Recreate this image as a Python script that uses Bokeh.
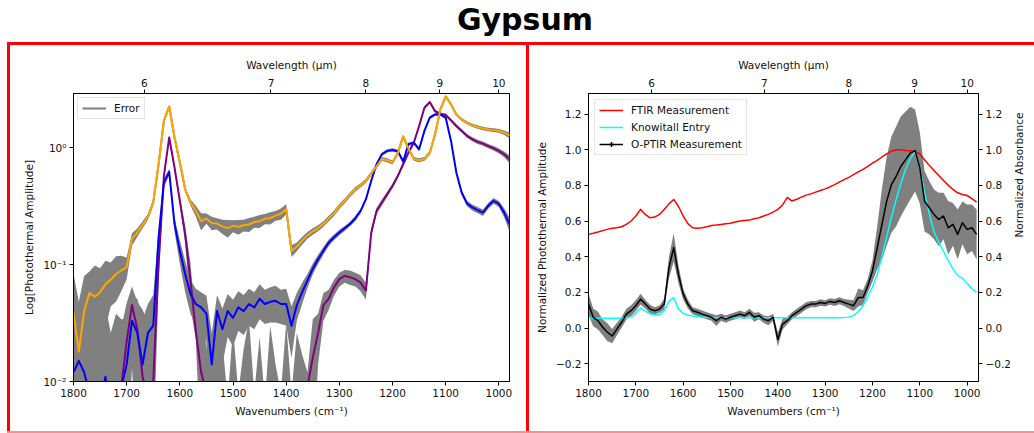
import math
from bokeh.plotting import figure
from bokeh.models import (Range1d, LinearAxis, FixedTicker, CustomJSTickFormatter,
                          Legend, LegendItem, Div, Spacer)
from bokeh.layouts import column, row
from bokeh.embed import file_html
from bokeh.resources import INLINE

# ---------------- data ----------------
WN = list(range(1800, 979, -10))  # wavenumber grid, cm^-1

ORANGE = [0.039, 0.018, 0.040, 0.057, 0.053, 0.058, 0.068, 0.074, 0.083, 0.089,
          0.095, 0.165, 0.188, 0.219, 0.256, 0.340, 0.720, 1.690, 2.250, 1.220,
          0.745, 0.440, 0.340, 0.288, 0.235, 0.248, 0.226, 0.224, 0.212, 0.205,
          0.214, 0.210, 0.217, 0.220, 0.231, 0.235, 0.246, 0.250, 0.262, 0.272,
          0.298, 0.131, 0.142, 0.160, 0.178, 0.192, 0.205, 0.222, 0.247, 0.275,
          0.315, 0.350, 0.395, 0.440, 0.475, 0.520, 0.600, 0.690, 0.800, 0.780,
          0.745, 0.900, 1.250, 0.980, 0.800, 0.780, 0.800, 0.900, 1.300, 2.120,
          2.740, 2.340, 1.920, 1.740, 1.630, 1.550, 1.500, 1.460, 1.430, 1.410,
          1.390, 1.340, 1.270]
ORANGE_ERR = [0.045, 0.030, 0.040, 0.030, 0.045, 0.035, 0.040, 0.030, 0.035, 0.030,
              0.020, 0.020, 0.015, 0.015, 0.015, 0.020, 0.030, 0.050, 0.060, 0.050,
              0.030, 0.020, 0.020, 0.030, 0.040, 0.025, 0.030, 0.025, 0.030, 0.035,
              0.025, 0.030, 0.025, 0.030, 0.025, 0.030, 0.025, 0.030, 0.025, 0.030,
              0.030, 0.015, 0.012, 0.012, 0.012, 0.012, 0.012, 0.012, 0.014, 0.015,
              0.016, 0.017, 0.018, 0.020, 0.020, 0.022, 0.025, 0.025, 0.030, 0.030,
              0.030, 0.030, 0.035, 0.035, 0.030, 0.030, 0.030, 0.035, 0.040, 0.050,
              0.060, 0.050, 0.050, 0.050, 0.050, 0.050, 0.050, 0.050, 0.050, 0.050,
              0.050, 0.060, 0.070]

PURPLE = [0.004, 0.004, 0.004, 0.004, 0.004, 0.004, 0.004, 0.004, 0.005, 0.009,
          0.022, 0.045, 0.028, 0.011, 0.007, 0.010, 0.100, 0.570, 1.220, 0.675,
          0.350, 0.182, 0.073, 0.027, 0.012, 0.008, 0.005, 0.004, 0.004, 0.004,
          0.004, 0.004, 0.004, 0.004, 0.004, 0.004, 0.004, 0.004, 0.004, 0.004,
          0.004, 0.004, 0.004, 0.005, 0.009, 0.016, 0.026, 0.045, 0.051, 0.064,
          0.075, 0.080, 0.078, 0.075, 0.070, 0.060, 0.188, 0.288, 0.339, 0.400,
          0.470, 0.573, 0.720, 0.906, 1.100, 1.530, 2.190, 2.450, 2.050, 1.940,
          1.900, 1.710, 1.530, 1.390, 1.260, 1.180, 1.120, 1.080, 1.030, 0.987,
          0.937, 0.877, 0.795]
PURPLE_ERR = [0.030, 0.020, 0.035, 0.025, 0.030, 0.020, 0.030, 0.020, 0.025, 0.020,
              0.025, 0.020, 0.020, 0.030, 0.025, 0.020, 0.030, 0.040, 0.050, 0.040,
              0.030, 0.030, 0.030, 0.004, 0.035, 0.012, 0.004, 0.028, 0.018, 0.003,
              0.025, 0.004, 0.015, 0.030, 0.004, 0.020, 0.003, 0.026, 0.010, 0.004,
              0.028, 0.004, 0.022, 0.012, 0.003, 0.018, 0.012, 0.012, 0.010, 0.010,
              0.010, 0.010, 0.011, 0.010, 0.011, 0.010, 0.015, 0.018, 0.020, 0.020,
              0.022, 0.025, 0.030, 0.035, 0.040, 0.050, 0.060, 0.060, 0.060, 0.055,
              0.055, 0.050, 0.050, 0.045, 0.045, 0.045, 0.045, 0.045, 0.045, 0.045,
              0.045, 0.050, 0.060]

BLUE = [0.012, 0.015, 0.012, 0.008, 0.006, 0.006, 0.011, 0.006, 0.008, 0.009,
        0.014, 0.033, 0.026, 0.014, 0.026, 0.030, 0.170, 0.500, 0.620, 0.222,
        0.131, 0.083, 0.056, 0.046, 0.043, 0.038, 0.014, 0.040, 0.028, 0.040,
        0.035, 0.043, 0.040, 0.046, 0.043, 0.051, 0.046, 0.048, 0.049, 0.046,
        0.046, 0.030, 0.045, 0.058, 0.073, 0.092, 0.111, 0.131, 0.154, 0.171,
        0.188, 0.204, 0.222, 0.248, 0.288, 0.362, 0.520, 0.720, 0.877, 0.937,
        0.955, 0.930, 0.760, 1.070, 1.100, 0.967, 1.390, 1.800, 1.920, 1.920,
        1.800, 1.140, 0.612, 0.413, 0.333, 0.308, 0.292, 0.278, 0.318, 0.351,
        0.330, 0.278, 0.222]
BLUE_ERR = [0.030, 0.020, 0.030, 0.025, 0.030, 0.020, 0.035, 0.020, 0.030, 0.025,
            0.020, 0.020, 0.025, 0.020, 0.020, 0.025, 0.030, 0.040, 0.040, 0.030,
            0.030, 0.025, 0.018, 0.016, 0.015, 0.016, 0.012, 0.015, 0.014, 0.016,
            0.015, 0.016, 0.015, 0.016, 0.015, 0.017, 0.015, 0.016, 0.017, 0.015,
            0.016, 0.014, 0.012, 0.012, 0.010, 0.010, 0.010, 0.010, 0.010, 0.010,
            0.010, 0.010, 0.010, 0.012, 0.012, 0.015, 0.020, 0.025, 0.030, 0.030,
            0.030, 0.030, 0.030, 0.035, 0.035, 0.035, 0.040, 0.050, 0.050, 0.050,
            0.050, 0.040, 0.025, 0.020, 0.018, 0.018, 0.018, 0.018, 0.018, 0.020,
            0.020, 0.025, 0.030]

FTIR = [0.525, 0.531, 0.538, 0.546, 0.553, 0.559, 0.562, 0.568, 0.581, 0.600,
        0.628, 0.665, 0.637, 0.618, 0.622, 0.637, 0.665, 0.696, 0.721, 0.683,
        0.628, 0.585, 0.562, 0.559, 0.562, 0.568, 0.575, 0.577, 0.581, 0.585,
        0.588, 0.594, 0.600, 0.603, 0.605, 0.613, 0.618, 0.628, 0.637, 0.650,
        0.665, 0.690, 0.732, 0.712, 0.722, 0.734, 0.745, 0.752, 0.762, 0.771,
        0.780, 0.791, 0.804, 0.818, 0.832, 0.845, 0.860, 0.875, 0.890, 0.907,
        0.924, 0.940, 0.959, 0.976, 0.991, 1.000, 1.000, 0.996, 0.994, 0.991,
        0.976, 0.944, 0.912, 0.883, 0.855, 0.827, 0.801, 0.777, 0.758, 0.749,
        0.743, 0.726, 0.706]

KNOWITALL = [0.055, 0.055, 0.055, 0.055, 0.055, 0.055, 0.055, 0.056, 0.057, 0.062,
             0.085, 0.112, 0.095, 0.080, 0.074, 0.076, 0.097, 0.150, 0.170, 0.106,
             0.082, 0.073, 0.067, 0.063, 0.061, 0.060, 0.059, 0.058, 0.058, 0.058,
             0.058, 0.058, 0.058, 0.058, 0.058, 0.058, 0.058, 0.058, 0.058, 0.058,
             0.058, 0.058, 0.058, 0.058, 0.058, 0.058, 0.058, 0.058, 0.058, 0.058,
             0.058, 0.058, 0.058, 0.058, 0.059, 0.061, 0.071, 0.091, 0.125, 0.175,
             0.230, 0.300, 0.400, 0.510, 0.620, 0.720, 0.810, 0.890, 0.950, 0.990,
             0.900, 0.760, 0.640, 0.540, 0.480, 0.430, 0.380, 0.330, 0.295, 0.280,
             0.250, 0.220, 0.200]

OPTIR = [0.134, 0.060, 0.041, 0.004, -0.024, -0.045, -0.006, 0.032, 0.078, 0.097,
         0.125, 0.162, 0.134, 0.106, 0.097, 0.106, 0.134, 0.339, 0.451, 0.302,
         0.190, 0.134, 0.097, 0.088, 0.078, 0.069, 0.060, 0.041, 0.060, 0.050,
         0.060, 0.069, 0.078, 0.069, 0.088, 0.060, 0.069, 0.050, 0.041, 0.060,
         -0.065, 0.022, 0.041, 0.069, 0.088, 0.106, 0.125, 0.134, 0.134, 0.143,
         0.138, 0.149, 0.143, 0.153, 0.143, 0.134, 0.125, 0.171, 0.171, 0.236,
         0.320, 0.450, 0.581, 0.711, 0.804, 0.850, 0.907, 0.944, 0.981, 0.995,
         0.898, 0.711, 0.674, 0.637, 0.609, 0.628, 0.562, 0.581, 0.525, 0.590,
         0.553, 0.562, 0.525]
OPTIR_ERR = [0.060, 0.050, 0.050, 0.045, 0.050, 0.040, 0.035, 0.030, 0.030, 0.030,
             0.030, 0.030, 0.025, 0.025, 0.020, 0.020, 0.030, 0.060, 0.080, 0.050,
             0.030, 0.025, 0.020, 0.020, 0.020, 0.020, 0.020, 0.030, 0.020, 0.020,
             0.020, 0.020, 0.020, 0.020, 0.020, 0.025, 0.020, 0.020, 0.025, 0.020,
             0.040, 0.030, 0.020, 0.020, 0.020, 0.020, 0.020, 0.018, 0.018, 0.018,
             0.018, 0.018, 0.020, 0.020, 0.020, 0.025, 0.030, 0.050, 0.040, 0.040,
             0.060, 0.120, 0.200, 0.250, 0.270, 0.280, 0.280, 0.270, 0.260, 0.230,
             0.200, 0.170, 0.150, 0.140, 0.150, 0.130, 0.150, 0.120, 0.140, 0.120,
             0.140, 0.130, 0.140]

WN_TICKS = [1800, 1700, 1600, 1500, 1400, 1300, 1200, 1100, 1000]
WAVELENGTHS_UM = [6, 7, 8, 9, 10]
LOG_TICKS = [0.01, 0.1, 1.0]
NORM_TICKS = [-0.2, 0.0, 0.2, 0.4, 0.6, 0.8, 1.0, 1.2]

FONT = "DejaVu Sans"
FS = "10.5px"
GRAY = "#808080"


def style_axis(ax):
    ax.major_label_text_font = FONT
    ax.major_label_text_font_size = FS
    ax.major_label_text_color = "#111111"
    ax.axis_label_text_font = FONT
    ax.axis_label_text_font_size = FS
    ax.axis_label_text_font_style = "normal"
    ax.axis_label_text_color = "#111111"
    ax.axis_line_color = "black"
    ax.major_tick_line_color = "black"
    ax.major_tick_in = 0
    ax.major_tick_out = 4
    ax.minor_tick_line_color = None
    ax.major_label_standoff = 3
    ax.axis_label_standoff = 5


def wl_axis():
    ax = LinearAxis(axis_label="Wavelength (\u03bcm)",
                    ticker=FixedTicker(ticks=[10000.0 / w for w in WAVELENGTHS_UM]),
                    formatter=CustomJSTickFormatter(code="return String(Math.round(10000/tick));"))
    style_axis(ax)
    return ax


def style_legend(leg):
    leg.label_text_font = FONT
    leg.label_text_font_size = FS
    leg.label_text_color = "#111111"
    leg.glyph_width = 24
    leg.glyph_height = 12
    leg.label_height = 12
    leg.label_standoff = 8
    leg.padding = 4
    leg.spacing = 5
    leg.border_line_color = "#cccccc"
    leg.border_line_width = 1
    leg.background_fill_alpha = 0.8
    leg.location = "top_left"


# ---------------- left panel ----------------
p1 = figure(width=516, height=386, x_range=Range1d(1800, 980), y_range=Range1d(0.01, 2.9),
            y_axis_type="log", output_backend="svg", toolbar_location=None,
            min_border_left=63, min_border_right=17, min_border_top=48, min_border_bottom=50)
p1.grid.visible = False
p1.outline_line_color = "black"
p1.xaxis.ticker = FixedTicker(ticks=WN_TICKS)
p1.xaxis.axis_label = "Wavenumbers (cm\u207b\u00b9)"
p1.yaxis.ticker = FixedTicker(ticks=LOG_TICKS)
p1.yaxis.formatter = CustomJSTickFormatter(code=r"""
const sup = {'-':'\u207b','0':'\u2070','1':'\u00b9','2':'\u00b2','3':'\u00b3','4':'\u2074','5':'\u2075','6':'\u2076','7':'\u2077','8':'\u2078','9':'\u2079'};
const e = Math.round(Math.log10(tick));
return '10' + String(e).split('').map(c => sup[c]).join('');
""")
p1.yaxis.axis_label = "Log[Photothermal Amplitude]"
for ax in p1.xaxis + p1.yaxis:
    style_axis(ax)
p1.add_layout(wl_axis(), "above")

FLOOR = 0.002
for vals, errs in ((ORANGE, ORANGE_ERR), (PURPLE, PURPLE_ERR), (BLUE, BLUE_ERR)):
    lo = [max(v - e, FLOOR) for v, e in zip(vals, errs)]
    hi = [v + e for v, e in zip(vals, errs)]
    p1.varea(x=WN, y1=lo, y2=hi, fill_color=GRAY, fill_alpha=1.0)

err_line = p1.line(WN, ORANGE, line_color=GRAY, line_width=2)
p1.line(WN, PURPLE, line_color="#800080", line_width=2, line_join="round")
p1.line(WN, BLUE, line_color="#0000ff", line_width=2, line_join="round")
p1.line(WN, ORANGE, line_color="#ffa500", line_width=2, line_join="round")

leg1 = Legend(items=[LegendItem(label="Error", renderers=[err_line])])
style_legend(leg1)
leg1.margin = 4
p1.add_layout(leg1)

# ---------------- right panel ----------------
p2 = figure(width=505, height=386, x_range=Range1d(1800, 976), y_range=Range1d(-0.30, 1.315),
            output_backend="svg", toolbar_location=None,
            min_border_left=59, min_border_right=56, min_border_top=47, min_border_bottom=50)
p2.grid.visible = False
p2.outline_line_color = "black"
p2.xaxis.ticker = FixedTicker(ticks=WN_TICKS)
p2.xaxis.axis_label = "Wavenumbers (cm\u207b\u00b9)"
norm_fmt_code = "return (tick < -1e-9 ? '\\u2212' : '') + Math.abs(tick).toFixed(1);"
p2.yaxis.ticker = FixedTicker(ticks=NORM_TICKS)
p2.yaxis.formatter = CustomJSTickFormatter(code=norm_fmt_code)
p2.yaxis.axis_label = "Normalized Photothermal Amplitude"
for ax in p2.xaxis + p2.yaxis:
    style_axis(ax)
right_ax = LinearAxis(axis_label="Normalized Absorbance", ticker=FixedTicker(ticks=NORM_TICKS),
                      formatter=CustomJSTickFormatter(code=norm_fmt_code))
style_axis(right_ax)
try:
    right_ax.axis_label_orientation = math.pi / 2
except Exception:
    pass
p2.add_layout(right_ax, "right")
p2.add_layout(wl_axis(), "above")

lo2 = [v - e for v, e in zip(OPTIR, OPTIR_ERR)]
hi2 = [v + e for v, e in zip(OPTIR, OPTIR_ERR)]
p2.varea(x=WN, y1=lo2, y2=hi2, fill_color=GRAY, fill_alpha=1.0)
r_ftir = p2.line(WN, FTIR, line_color="#ff0000", line_width=1.5, line_join="round")
r_kia = p2.line(WN, KNOWITALL, line_color="#00ffff", line_width=1.5, line_join="round")
r_opt = p2.line(WN, OPTIR, line_color="black", line_width=1.5, line_join="round")
r_cross = p2.scatter(WN, OPTIR, marker="cross", size=0, line_color="black", line_width=1.5)

leg2 = Legend(items=[LegendItem(label="FTIR Measurement", renderers=[r_ftir]),
                     LegendItem(label="Knowitall Entry", renderers=[r_kia]),
                     LegendItem(label="O-PTIR Measurement", renderers=[r_opt, r_cross])])
style_legend(leg2)
leg2.margin = 6
p2.add_layout(leg2)

# ---------------- page layout ----------------
title = Div(text='<div style="width:1034px; box-sizing:border-box; font-family:\'DejaVu Sans\'; '
                 'font-weight:bold; font-size:30px; text-align:center; line-height:40px; '
                 'padding-left:16px; color:#000;">Gypsum</div>',
            width=1034, height=42, margin=0)
RED = {"background-color": "#ff0000"}
top_line = row(Spacer(width=7, height=3, margin=0),
               Div(text="", width=1027, height=3, margin=0, styles=RED), spacing=0)
panels = row(Spacer(width=7, height=386, margin=0),
             Div(text="", width=3, height=386, margin=0, styles=RED),
             p1,
             Div(text="", width=3, height=386, margin=0, styles=RED),
             p2, spacing=0)
bottom_line = row(Spacer(width=7, height=2, margin=0),
                  Div(text="", width=1027, height=2, margin=0, styles={"background-color": "#ff8c8c"}),
                  spacing=0)
page = column(title, top_line, panels, bottom_line, spacing=0)

open("out.html", "w").write(file_html(page, INLINE))
